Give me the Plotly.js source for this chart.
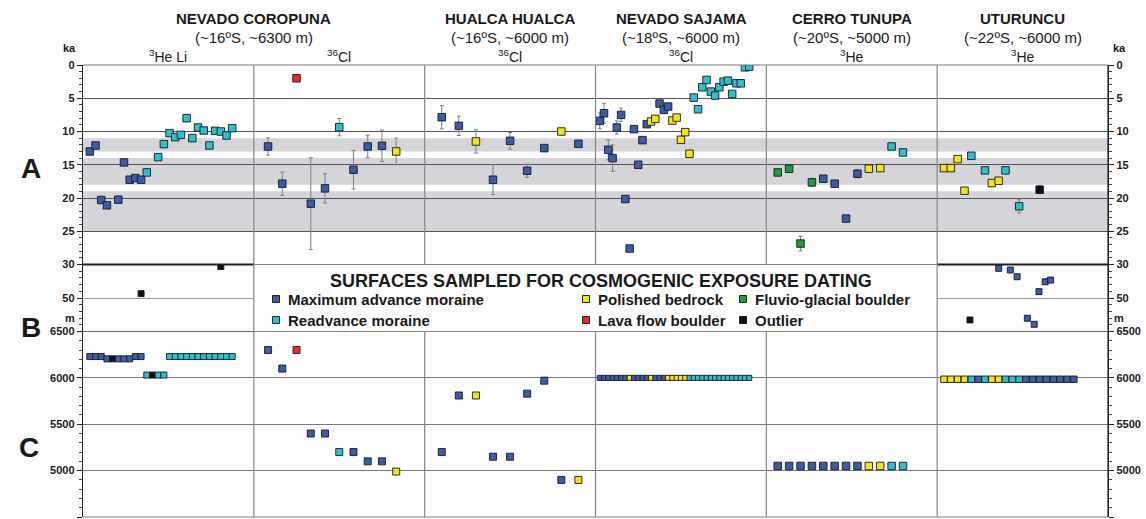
<!DOCTYPE html>
<html>
<head>
<meta charset="utf-8">
<script src="https://cdn.plot.ly/plotly-3.0.1.min.js"></script>
<style>
  html, body { margin: 0; padding: 0; background: #fdfdfd; }
  #chart { width: 1146px; height: 519px; }
</style>
</head>
<body>
<div id="chart"></div>
<script>
// Sample surface types
const typeColors = { M: '#3a5da6', C: '#2fbfca', P: '#f2e31c', G: '#1f9d3d', R: '#ec2a2a', O: '#111111' };
const typeNames  = { M: 'Maximum advance moraine', C: 'Readvance moraine', P: 'Polished bedrock',
                     R: 'Lava flow boulder', G: 'Fluvio-glacial boulder', O: 'Outlier' };

// Glacial stages shaded in panel A (ka)
const bandStart = [11, 14, 19];
const bandEnd   = [13, 18, 25];

// ---- Nevado Coropuna, 3He Li ----
const coroHeAgeSlots = [1,2,3,4,6,7,8,9,10,11,13,14,15,16,17,18,19,20,21,22,23,24,25,26];
const coroHeAgeTypes = ['M','M','M','M','M','M','M','M','M','C','C','C','C','C','C','C','C','C','C','C','C','C','C','C'];
const coroHeAges     = [13.0,12.1,20.3,21.1,20.25,14.65,17.25,17.0,17.25,16.15,13.85,11.9,10.25,10.85,10.5,8.0,11.0,9.4,9.85,12.1,9.9,10.0,10.6,9.5];
const coroHeOldSlots = [10, 24];
const coroHeOldTypes = ['O','O'];
const coroHeOldAges  = [47.4, 31.2];
const coroHeElevSlots = [1,2,3,4,5,6,7,8,9,10,11,12,13,14,15,16,17,18,19,20,21,22,23,24,25,26];
const coroHeElevTypes = ['M','M','M','M','O','M','M','M','M','M','C','O','C','C','C','C','C','C','C','C','C','C','C','C','C','C'];
const coroHeElevs     = [6230,6230,6230,6205,6205,6205,6205,6205,6230,6230,6030,6030,6030,6030,6230,6230,6230,6230,6230,6230,6230,6230,6230,6230,6230,6230];

// ---- Nevado Coropuna, 36Cl ----
const coroClSlots = [1,2,3,4,5,6,7,8,9,10];
const coroClTypes = ['M','M','R','M','M','C','M','M','M','P'];
const coroClAges  = [12.25,17.85,2.0,20.85,18.55,9.35,15.75,12.25,12.15,13.0];
const coroClErrs  = [1.3,1.75,0,6.9,2.2,1.3,2.9,1.7,2.35,2.0];
const coroClElevs = [6300,6100,6300,5400,5400,5200,5200,5100,5100,4990];

// ---- Hualca Hualca, 36Cl ----
const hualSlots     = [1,2,3,4,5,6,7,8,9];
const hualAgeTypes  = ['M','M','P','M','M','M','M','P','M'];
const hualAges      = [7.85,9.15,11.5,17.25,11.4,15.9,12.5,10.0,11.85];
const hualErrs      = [1.75,1.45,1.75,2.25,1.25,1.0,0,0,0];
const hualElevTypes = ['M','M','P','M','M','M','M','M','P'];
const hualElevs     = [5200,5810,5810,5150,5150,5830,5970,4900,4900];

// ---- Nevado Sajama, 36Cl ----
const sajSlots     = [1,2,3,4,5,6,7,8,9,10,11,12,13,14,15,16,17,18,19,20,21,22,23,24,25,26,27,28,29,30,31,32,33,34,35,36];
const sajAgeTypes  = ['M','M','M','M','M','M','M','M','M','M','M','M','P','P','M','M','M','P','P','P','P','P',
                      'C','C','C','C','C','C','C','C','C','C','C','C','C','C'];
const sajAges      = [8.4,7.25,12.75,14.0,9.4,7.5,20.15,27.6,9.65,15.0,11.3,8.9,8.5,8.1,5.8,6.75,6.25,8.35,7.9,11.25,10.1,13.35,
                      4.9,6.65,3.35,2.25,4.0,4.6,3.35,2.5,2.35,4.35,2.75,2.75,0.35,0.25];
const sajErrs      = [1.2,1.5,1.5,2.0,1.0,1.0,0,0,0,0,0,0,0,0,0,0,0,0,0,0,0,0,0,0,0,0,0,0,0,0,0,0,0,0,0,0];
const sajElevTypes = ['M','M','M','M','M','M','M','P','M','M','M','M','P','M','M','M','P','P','P','P','P',
                      'C','C','C','C','C','C','C','C','C','C','C','C','C','C','C'];
const sajElevs     = [6000,6000,6000,6000,6000,6000,6000,6000,6000,6000,6000,6000,6000,6000,6000,6000,6000,6000,
                      6000,6000,6000,6000,6000,6000,6000,6000,6000,6000,6000,6000,6000,6000,6000,6000,6000,6000];

// ---- Cerro Tunupa, 3He ----
const tunSlots     = [1,2,3,4,5,6,7,8,9,10,11,12];
const tunAgeTypes  = ['G','G','G','G','M','M','M','M','P','P','C','C'];
const tunAges      = [16.15,15.6,26.85,17.65,17.1,17.85,23.1,16.35,15.6,15.5,12.25,13.15];
const tunErrs      = [0.3,0,1.1,0.6,0.4,0.4,0.4,0.6,0,0,0,0];
const tunElevTypes = ['M','M','M','M','M','M','M','M','P','P','C','C'];
const tunElevs     = [5050,5050,5050,5050,5050,5050,5050,5050,5050,5050,5050,5050];

// ---- Uturuncu, 3He ----
const utuAgeSlots  = [1,2,3,4,5,7,8,9,10,12,15];
const utuAgeTypes  = ['P','P','P','P','C','C','P','P','C','C','O'];
const utuAges      = [15.5,15.5,14.15,18.9,13.65,15.85,17.75,17.4,15.85,21.25,18.75];
const utuErrs      = [0,0,0,0,0,0,0,0,0,1.0,0.6];
const utuOldSlots  = [4.8,9,10.7,11.7,13.2,14.2,14.9,15.8,16.6];
const utuOldTypes  = ['O','M','M','M','M','M','M','M','M'];
const utuOldAges   = [63.1,32.3,33.3,37.3,62.1,65.7,46.2,40.3,39.3];
const utuElevSlots = [1,2,3,4,5,6,7,8,9,10,11,12,13,14,15,16,17,18,19,20];
const utuElevTypes = ['P','P','P','P','C','M','C','P','P','C','C','C','M','M','M','M','M','M','M','M'];
const utuElevs     = [5985,5985,5985,5985,5985,5985,5985,5985,5985,5985,5985,5985,5985,5985,5985,5985,5985,5985,5985,5985];

// Column headings
const siteNames   = ['NEVADO COROPUNA','HUALCA HUALCA','NEVADO SAJAMA','CERRO TUNUPA','UTURUNCU'];
const siteCoords  = ['(~16ºS, ~6300 m)','(~16ºS, ~6000 m)','(~18ºS, ~6000 m)','(~20ºS, ~5000 m)','(~22ºS, ~6000 m)'];
const methodLabels = ['<sup>3</sup>He Li','<sup>36</sup>Cl','<sup>36</sup>Cl','<sup>36</sup>Cl','<sup>3</sup>He','<sup>3</sup>He'];

// Axis ticks
const ageTicks  = [0,5,10,15,20,25];
const oldTicks  = [30,50];
const elevTicks = [4500,5000,5500,6000,6500];

// ---------------- layout geometry ----------------
const W = 1146, H = 519;
const M = { l: 83, r: 38, t: 65, b: 2 };
const plotW = W - M.l - M.r, plotH = H - M.t - M.b;
const px = x => (x - M.l) / plotW;
const py = y => (H - M.b - y) / plotH;
const domC = [0, py(331.5)];
const domB = [py(331.5), py(264.5)];
const domA = [py(264.5), 1];
const slotRanges = [[-0.2, 29.8], [0, 12], [0, 10], [0, 40], [0, 15], [0, 25]];

const FONT = 'Liberation Sans, Arial, sans-serif';
const INK = '#1a1a1a';

const traces = [];
function addMarks(col, yax, slots, vals, types, size, errs) {
  const xa = col === 0 ? 'x' : 'x' + (col + 1);
  const t = {
    type: 'scatter', mode: 'markers', xaxis: xa, yaxis: yax,
    x: slots, y: vals, showlegend: false, hoverinfo: 'skip',
    marker: { symbol: 'square', size: size, color: types.map(k => typeColors[k]),
              line: { color: 'rgba(25,25,35,0.9)', width: 1 } }
  };
  if (errs) {
    t.error_y = { type: 'data', array: errs, visible: true, color: '#7f7f7f', thickness: 1, width: 2 };
  }
  traces.push(t);
}

// Panel A: exposure ages
addMarks(0, 'y', coroHeAgeSlots, coroHeAges, coroHeAgeTypes, 7.5);
addMarks(1, 'y', coroClSlots, coroClAges, coroClTypes, 7.5, coroClErrs);
addMarks(2, 'y', hualSlots, hualAges, hualAgeTypes, 7.5, hualErrs);
addMarks(3, 'y', sajSlots, sajAges, sajAgeTypes, 7.5, sajErrs);
addMarks(4, 'y', tunSlots, tunAges, tunAgeTypes, 7.5, tunErrs);
addMarks(5, 'y', utuAgeSlots, utuAges, utuAgeTypes, 7.5, utuErrs);
// Panel B: older ages
addMarks(0, 'y2', coroHeOldSlots, coroHeOldAges, coroHeOldTypes, 6);
addMarks(5, 'y2', utuOldSlots, utuOldAges, utuOldTypes, 6);
// Panel C: sample elevations
addMarks(0, 'y3', coroHeElevSlots, coroHeElevs, coroHeElevTypes, 6);
addMarks(1, 'y3', coroClSlots, coroClElevs, coroClTypes, 7);
addMarks(2, 'y3', hualSlots, hualElevs, hualElevTypes, 7);
addMarks(3, 'y3', sajSlots, sajElevs, sajElevTypes, 5);
addMarks(4, 'y3', tunSlots, tunElevs, tunElevTypes, 7.5);
addMarks(5, 'y3', utuElevSlots, utuElevs, utuElevTypes, 6.5);

// empty traces so the right-hand copies of the value axes get drawn
['y4', 'y5', 'y6'].forEach(ya => traces.push({
  type: 'scatter', mode: 'markers', xaxis: 'x', yaxis: ya, x: [null], y: [null],
  showlegend: false, hoverinfo: 'skip'
}));

const tickFont = { family: FONT, size: 11, color: INK, weight: 'bold' };
function yAxis(dom, range, ticks, minorDtick, minorTick0, gridcolor, showgrid) {
  return {
    domain: dom, range: range, autorange: false, anchor: 'x', side: 'left',
    tickmode: 'array', tickvals: ticks, ticks: 'outside', ticklen: 5, tickwidth: 1, tickcolor: '#222',
    minor: { ticks: 'outside', ticklen: 3, tickwidth: 1, tickcolor: '#444', dtick: minorDtick, tick0: minorTick0, showgrid: false },
    showline: true, linecolor: '#222', linewidth: 1.2,
    showgrid: showgrid, gridcolor: gridcolor, gridwidth: 1, zeroline: false,
    tickfont: tickFont, fixedrange: true
  };
}
// copy of a left axis drawn on the right edge of the figure
function rightAxis(base, over) {
  const a = Object.assign({}, base, { overlaying: over, side: 'right', anchor: 'free', position: 1, showgrid: false });
  delete a.domain;
  return a;
}

const axA = yAxis(domA, [30, 0], ageTicks, 1, 0, '#555', true);
const axB = yAxis(domB, [70, 30], oldTicks, 4, 30, '#9a9a9a', true);
const axC = yAxis(domC, [4500, 6500], elevTicks, 100, 4500, '#7a7a7a', true);

const layout = {
  width: W, height: H, margin: M,
  paper_bgcolor: '#fdfdfd', plot_bgcolor: 'rgba(0,0,0,0)',
  showlegend: false,
  font: { family: FONT, color: INK },
  yaxis: axA, yaxis2: axB, yaxis3: axC,
  yaxis4: rightAxis(axA, 'y'),
  yaxis5: rightAxis(axB, 'y2'),
  yaxis6: rightAxis(axC, 'y3'),
  shapes: [], annotations: []
};
for (let i = 0; i < 6; i++) {
  const key = i === 0 ? 'xaxis' : 'xaxis' + (i + 1);
  layout[key] = { domain: [i / 6, (i + 1) / 6], range: slotRanges[i], anchor: 'y3',
                  visible: false, fixedrange: true };
}

// shaded stages in every column of panel A
for (let i = 0; i < 6; i++) {
  const xr = (i === 0 ? 'x' : 'x' + (i + 1)) + ' domain';
  for (let b = 0; b < bandStart.length; b++) {
    layout.shapes.push({ type: 'rect', xref: xr, yref: 'y', x0: 0, x1: 1, y0: bandStart[b], y1: bandEnd[b],
                         fillcolor: '#d5d4d8', line: { width: 0 }, layer: 'below' });
  }
}

// frame lines
const frame = (x0, y0, x1, y1, color, width) =>
  layout.shapes.push({ type: 'line', xref: 'paper', yref: 'paper', x0, y0, x1, y1,
                       line: { color, width }, layer: 'above' });
frame(0, 1, 1, 1, '#7a7a7a', 1);
frame(0, 0, 1, 0, '#7a7a7a', 1);
for (let i = 1; i < 6; i++) {
  frame(i / 6, domA[0], i / 6, 1, '#858585', 1.2);
  frame(i / 6, 0, i / 6, domC[1], '#858585', 1.2);
}
frame(0, domA[0], 1 / 6, domA[0], '#222', 2);
frame(5 / 6, domA[0], 1, domA[0], '#222', 2);
frame(0, domC[1], 1, domC[1], '#6a6a6a', 1.2);
frame(1, 0, 1, 1, '#222', 1.2);
// legend box spanning the middle columns of panel B
layout.shapes.push({ type: 'rect', xref: 'paper', yref: 'paper', x0: 1 / 6, x1: 5 / 6, y0: domB[0], y1: domB[1],
                     line: { color: '#858585', width: 1.2 }, fillcolor: 'rgba(0,0,0,0)', layer: 'above' });

const ann = (x, y, text, size, opts = {}) => layout.annotations.push(Object.assign({
  xref: 'paper', yref: 'paper', x: px(x), y: py(y), text: text, showarrow: false,
  xanchor: 'center', yanchor: 'middle',
  font: { family: FONT, size: size, color: INK, weight: opts.weight || 'bold' }
}, opts.extra || {}));

// column headings
const siteCenters = [253.8, 510.2, 681, 851.8, 1022.6];
siteNames.forEach((s, i) => {
  ann(siteCenters[i], 19, s, 15);
  ann(siteCenters[i], 38, siteCoords[i], 15, { weight: 'normal' });
});
methodLabels.forEach((s, i) => ann(83 + plotW * (i + 0.5) / 6, 56, s, 14, { weight: 'normal' }));

// panel letters and axis units
ann(31, 168, 'A', 28);
ann(31, 327, 'B', 28);
ann(29, 447, 'C', 28);
ann(69, 48, 'ka', 11);
ann(1119, 48, 'ka', 11);
ann(70, 318, 'm', 11);
ann(1119, 318, 'm', 11);

// legend of sampled surfaces
ann(601, 281, 'SURFACES SAMPLED FOR COSMOGENIC EXPOSURE DATING', 18);
const legendOrder = ['M', 'P', 'G', 'C', 'R', 'O'];
const legendX = [276, 586, 743];
const legendY = [299, 320];
legendOrder.forEach((k, i) => {
  const cx = legendX[i % 3], cy = legendY[Math.floor(i / 3)];
  layout.shapes.push({ type: 'rect', xref: 'paper', yref: 'paper',
    x0: px(cx - 3.5), x1: px(cx + 3.5), y0: py(cy + 3.5), y1: py(cy - 3.5),
    fillcolor: typeColors[k], line: { color: '#222', width: 1 }, layer: 'above' });
  ann(cx + 10, cy, typeNames[k], 15, { extra: { xanchor: 'left' } });
});

Plotly.newPlot('chart', traces, layout, { staticPlot: true, displayModeBar: false });
</script>
</body>
</html>
